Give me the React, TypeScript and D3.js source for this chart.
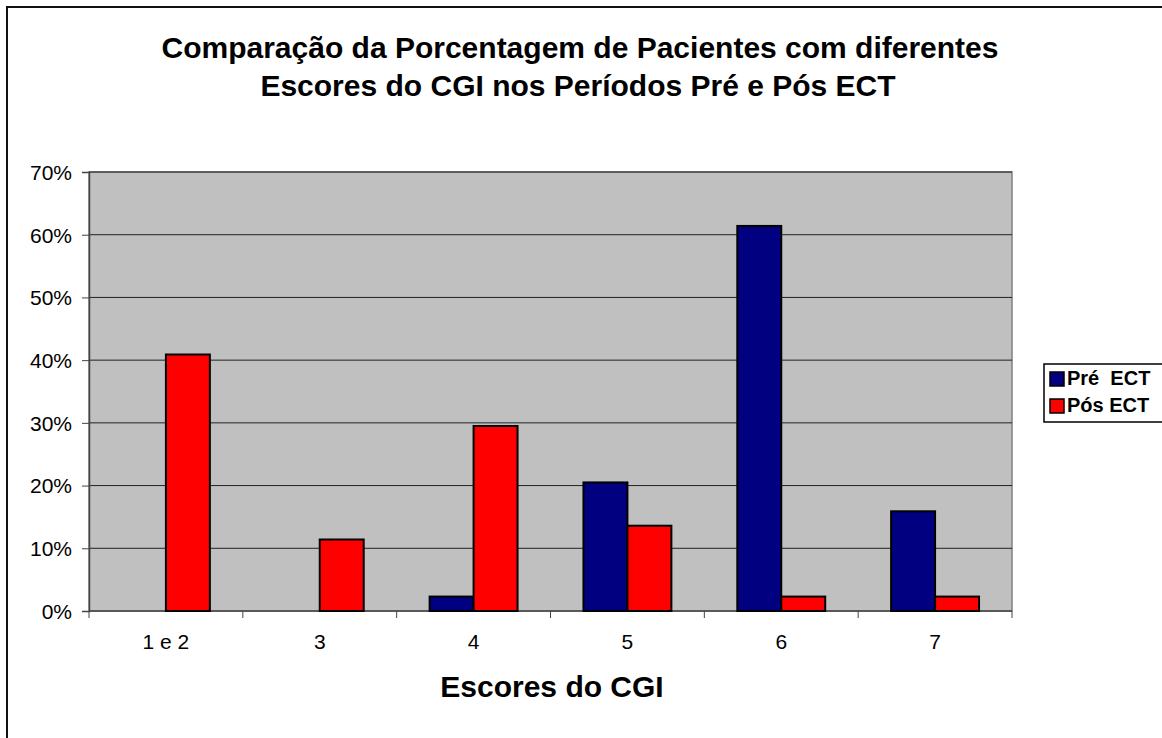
import React, { useEffect, useRef } from 'react';
import * as d3 from 'd3';

const categories = ['1 e 2', '3', '4', '5', '6', '7'];
const preECT = [0, 0, 2.3, 20.5, 61.4, 15.9];
const posECT = [40.9, 11.4, 29.5, 13.6, 2.3, 2.3];
const yTicks = [0, 10, 20, 30, 40, 50, 60, 70];
const seriesNames = ['Pré  ECT', 'Pós ECT'];
const seriesColors = ['#000080', '#FF0000'];

const W = 1162;
const H = 738;

const App: React.FC = () => {
  const svgRef = useRef<SVGSVGElement>(null);

  useEffect(() => {
    if (!svgRef.current) return;
    const root = d3.select(svgRef.current);
    root.selectAll('*').remove();

    const font = "'Liberation Sans', Arial, sans-serif";
    const plot = { left: 89, right: 1012, top: 172, bottom: 611 };

    // outer frame (runs off the page at right and bottom)
    root.append('rect')
      .attr('x', 7).attr('y', 7)
      .attr('width', W + 20).attr('height', H + 20)
      .attr('fill', 'white').attr('stroke', '#111').attr('stroke-width', 2);

    const x0 = d3.scaleBand<string>()
      .domain(categories)
      .range([plot.left, plot.right]);

    // gap width 150% -> bar = band / 3.5
    const barW = x0.bandwidth() / 3.5;

    const y = d3.scaleLinear().domain([0, 70]).range([plot.bottom, plot.top]);

    // plot background
    root.append('rect')
      .attr('x', plot.left).attr('y', plot.top)
      .attr('width', plot.right - plot.left).attr('height', plot.bottom - plot.top)
      .attr('fill', '#C0C0C0').attr('stroke', '#808080').attr('stroke-width', 1.5);

    // gridlines
    root.append('g')
      .selectAll('line')
      .data(yTicks.filter(t => t > 0))
      .enter().append('line')
      .attr('x1', plot.left).attr('x2', plot.right)
      .attr('y1', d => y(d)).attr('y2', d => y(d))
      .attr('stroke', '#222').attr('stroke-width', 1);

    // y axis
    const yAxis = d3.axisLeft(y)
      .tickValues(yTicks)
      .tickSize(7)
      .tickPadding(10)
      .tickFormat(d => `${d}%`);
    const gy = root.append('g')
      .attr('transform', `translate(${plot.left},0)`)
      .call(yAxis);
    gy.select('.domain').attr('stroke', '#444').attr('stroke-width', 1.5);
    gy.selectAll('.tick line').attr('stroke', '#444');
    gy.selectAll('.tick text')
      .attr('font-family', font).attr('font-size', 21).attr('fill', '#000')
      .attr('dy', '0.35em');

    // x axis line + boundary ticks
    root.append('line')
      .attr('x1', plot.left).attr('x2', plot.right)
      .attr('y1', plot.bottom).attr('y2', plot.bottom)
      .attr('stroke', '#444').attr('stroke-width', 1.5);
    const bounds = categories.map(c => x0(c) as number).concat([plot.right]);
    root.append('g')
      .selectAll('line')
      .data(bounds)
      .enter().append('line')
      .attr('x1', d => d).attr('x2', d => d)
      .attr('y1', plot.bottom).attr('y2', plot.bottom + 7)
      .attr('stroke', '#444').attr('stroke-width', 1);
    root.append('g')
      .selectAll('text')
      .data(categories)
      .enter().append('text')
      .attr('x', d => (x0(d) as number) + x0.bandwidth() / 2)
      .attr('y', 649)
      .attr('text-anchor', 'middle')
      .attr('font-family', font).attr('font-size', 21)
      .text(d => d);

    // bars
    const series = [preECT, posECT];
    series.forEach((vals, si) => {
      const g = root.append('g');
      vals.forEach((v, i) => {
        if (v <= 0) return;
        const cx = (x0(categories[i]) as number) + x0.bandwidth() / 2;
        g.append('rect')
          .attr('x', cx - barW + si * barW)
          .attr('y', y(v))
          .attr('width', barW)
          .attr('height', y(0) - y(v))
          .attr('fill', seriesColors[si])
          .attr('stroke', '#000')
          .attr('stroke-width', 2);
      });
    });

    // title
    const title = root.append('text')
      .attr('text-anchor', 'middle')
      .attr('font-family', font).attr('font-size', 30).attr('font-weight', 'bold');
    title.append('tspan').attr('x', 580).attr('y', 58)
      .text('Comparação da Porcentagem de Pacientes com diferentes');
    title.append('tspan').attr('x', 578).attr('y', 96)
      .text('Escores do CGI nos Períodos Pré e Pós ECT');

    // axis title
    root.append('text')
      .attr('x', 552).attr('y', 697)
      .attr('text-anchor', 'middle')
      .attr('font-family', font).attr('font-size', 30).attr('font-weight', 'bold')
      .text('Escores do CGI');

    // legend
    const lg = root.append('g').attr('transform', 'translate(1044,364)');
    lg.append('rect')
      .attr('width', 130).attr('height', 58)
      .attr('fill', 'white').attr('stroke', '#000').attr('stroke-width', 1.5);
    seriesNames.forEach((name, i) => {
      lg.append('rect')
        .attr('x', 6).attr('y', 8 + i * 27)
        .attr('width', 14).attr('height', 14)
        .attr('fill', seriesColors[i]).attr('stroke', '#000').attr('stroke-width', 1.5);
      lg.append('text')
        .attr('x', 23).attr('y', 21 + i * 27)
        .attr('font-family', font).attr('font-size', 20).attr('font-weight', 'bold')
        .style('white-space', 'pre')
        .text(name);
    });
  }, []);

  return (
    <div style={{ position: 'absolute', left: 0, top: 0, width: W, height: H, overflow: 'hidden', background: 'white' }}>
      <svg ref={svgRef} width={W} height={H} style={{ display: 'block' }} />
    </div>
  );
};

export default App;
